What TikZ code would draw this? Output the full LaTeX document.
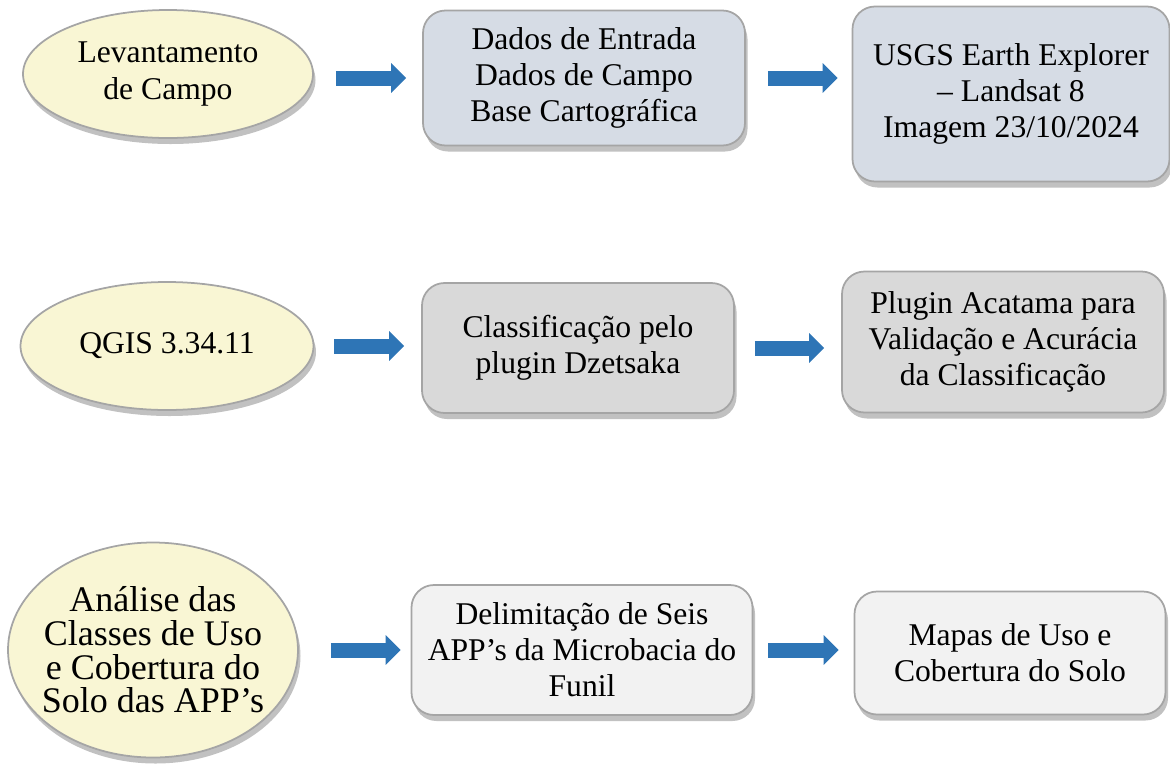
\documentclass[tikz,border=0pt]{standalone}
\usepackage{fontspec}
\setmainfont{Liberation Serif}
\usetikzlibrary{shapes.geometric}
\usetikzlibrary{arrows.meta}
\usetikzlibrary{shadows}

\definecolor{campo}{HTML}{F9F6D4}
\definecolor{entrada}{HTML}{D6DCE5}
\definecolor{cinza}{HTML}{D9D9D9}
\definecolor{claro}{HTML}{F2F2F2}
\definecolor{borda}{HTML}{A5A5A5}
\definecolor{azul}{HTML}{2E75B6}

\begin{document}
\begin{tikzpicture}[every node/.style={draw=borda, line width=1pt, align=center, font=\fontsize{18}{20.5}\selectfont,
                   drop shadow={shadow xshift=0.05cm, shadow yshift=-0.12cm, opacity=0.35, fill=black!70}},
				   etapa/.style={ellipse, fill=campo, inner sep=0pt},
				   caixa/.style={rectangle, rounded corners=0.45cm, inner sep=0pt},
				   seta/.style={line width=0.3cm, azul, -{Triangle[width=0.58cm, length=0.3cm]}}]
\useasboundingbox (0,0) rectangle (23.4,-15.26);

% linha 1
\node[etapa, minimum width=5.8cm, minimum height=2.56cm] (lev) at (3.36,-1.48) {Levantamento\\de Campo};
\node[caixa, fill=entrada, minimum width=6.44cm, minimum height=2.7cm] (dados) at (11.68,-1.56) {Dados de Entrada\\Dados de Campo\\Base Cartográfica};
\node[caixa, fill=entrada, minimum width=6.34cm, minimum height=3.5cm] (usgs) at (20.22,-1.88) {USGS Earth Explorer\\– Landsat 8\\Imagem 23/10/2024};

% linha 2
\node[etapa, minimum width=5.86cm, minimum height=2.56cm] (qgis) at (3.34,-6.92) {QGIS 3.34.11};
\node[caixa, fill=cinza, minimum width=6.24cm, minimum height=2.6cm] (dzet) at (11.56,-6.96) {Classificação pelo\\plugin Dzetsaka};
\node[caixa, fill=cinza, minimum width=6.44cm, minimum height=2.82cm] (acat) at (20.06,-6.84) {Plugin Acatama para\\Validação e Acurácia\\da Classificação};

% linha 3
\node[etapa, minimum width=5.8cm, minimum height=4.3cm, inner xsep=-0.2cm, font=\fontsize{20.5}{19.2}\selectfont] (anal) at (3.06,-13.0) {Análise das\\Classes de Uso\\e Cobertura do\\Solo das APP’s};
\node[caixa, fill=claro, minimum width=6.82cm, minimum height=2.6cm] (delim) at (11.64,-13.0) {Delimitação de Seis\\APP’s da Microbacia do\\Funil};
\node[caixa, fill=claro, minimum width=6.22cm, minimum height=2.46cm] (mapas) at (20.2,-13.06) {Mapas de Uso e\\Cobertura do Solo};

\draw[seta, shorten <=0.44cm, shorten >=0.32cm] (dados.west -| lev.east) -- (dados.west);
\draw[seta, shorten <=0.44cm, shorten >=0.28cm] (dados.east) -- (dados.east -| usgs.west);
\draw[seta, shorten <=0.4cm, shorten >=0.34cm] (qgis.east) -- (qgis.east -| dzet.west);
\draw[seta, shorten <=0.4cm, shorten >=0.34cm] (dzet.east) -- (dzet.east -| acat.west);
\draw[seta, shorten <=0.64cm, shorten >=0.2cm] (anal.east) -- (anal.east -| delim.west);
\draw[seta, shorten <=0.3cm, shorten >=0.3cm] (delim.east) -- (delim.east -| mapas.west);
\end{tikzpicture}
\end{document}
